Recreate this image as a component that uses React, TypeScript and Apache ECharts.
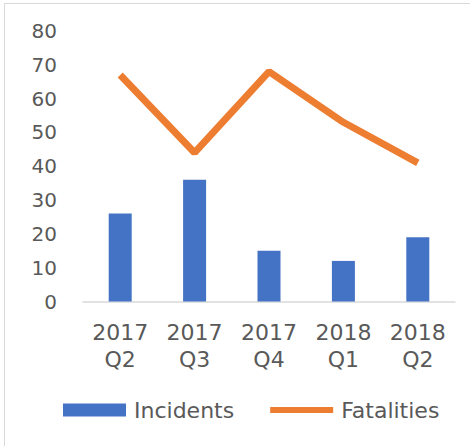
import React, { useEffect, useRef } from "react";
import * as echarts from "echarts";

const categories = ["2017\nQ2", "2017\nQ3", "2017\nQ4", "2018\nQ1", "2018\nQ2"];
const incidents = [26, 36, 15, 12, 19];
const fatalities = [67, 44, 68, 53, 41];
const seriesNames = ["Incidents", "Fatalities"];

const FONT = "DejaVu Sans";
const TEXT_COLOR = "#595959";

export default function App() {
  const ref = useRef<HTMLDivElement>(null);
  useEffect(() => {
    if (!ref.current) return;
    const chart = echarts.init(ref.current, undefined, { renderer: "svg" });
    chart.setOption({
      animation: false,
      backgroundColor: "#ffffff",
      graphic: [
        {
          type: "rect",
          shape: { x: 4.5, y: 3.5, width: 500, height: 500 },
          style: { fill: "none", stroke: "#d9d9d9", lineWidth: 1 },
          silent: true,
        },
      ],
      grid: { left: 83, right: 15, top: 31, bottom: 144.5 },
      legend: {
        data: [
          { name: seriesNames[0], icon: "rect" },
          { name: seriesNames[1], icon: "path://M0,0H63V6H0Z" },
        ],
        left: 58,
        top: 394,
        itemWidth: 63,
        itemHeight: 13,
        itemGap: 36,
        symbolKeepAspect: true,
        textStyle: {
          fontFamily: FONT,
          fontSize: 22,
          color: TEXT_COLOR,
          padding: [0, 0, 0, 3],
        },
      },
      xAxis: {
        type: "category",
        data: categories,
        axisLine: { show: true, lineStyle: { color: "#d9d9d9", width: 1.5 } },
        axisTick: { show: false },
        axisLabel: {
          fontFamily: FONT,
          fontSize: 22,
          color: TEXT_COLOR,
          lineHeight: 27,
          margin: 17,
          interval: 0,
        },
      },
      yAxis: {
        type: "value",
        min: 0,
        max: 80,
        interval: 10,
        splitLine: { show: false },
        axisLine: { show: false },
        axisTick: { show: false },
        axisLabel: {
          fontFamily: FONT,
          fontSize: 20,
          color: TEXT_COLOR,
          margin: 26,
        },
      },
      series: [
        {
          name: seriesNames[0],
          type: "bar",
          data: incidents,
          barWidth: 23,
          itemStyle: { color: "#4472C4" },
        },
        {
          name: seriesNames[1],
          type: "line",
          data: fatalities,
          symbol: "none",
          lineStyle: { color: "#ED7D31", width: 7 },
          itemStyle: { color: "#ED7D31" },
        },
      ],
    });
    return () => chart.dispose();
  }, []);
  return (
    <div
      ref={ref}
      style={{ position: "fixed", left: 0, top: 0, width: 470, height: 446 }}
    />
  );
}
